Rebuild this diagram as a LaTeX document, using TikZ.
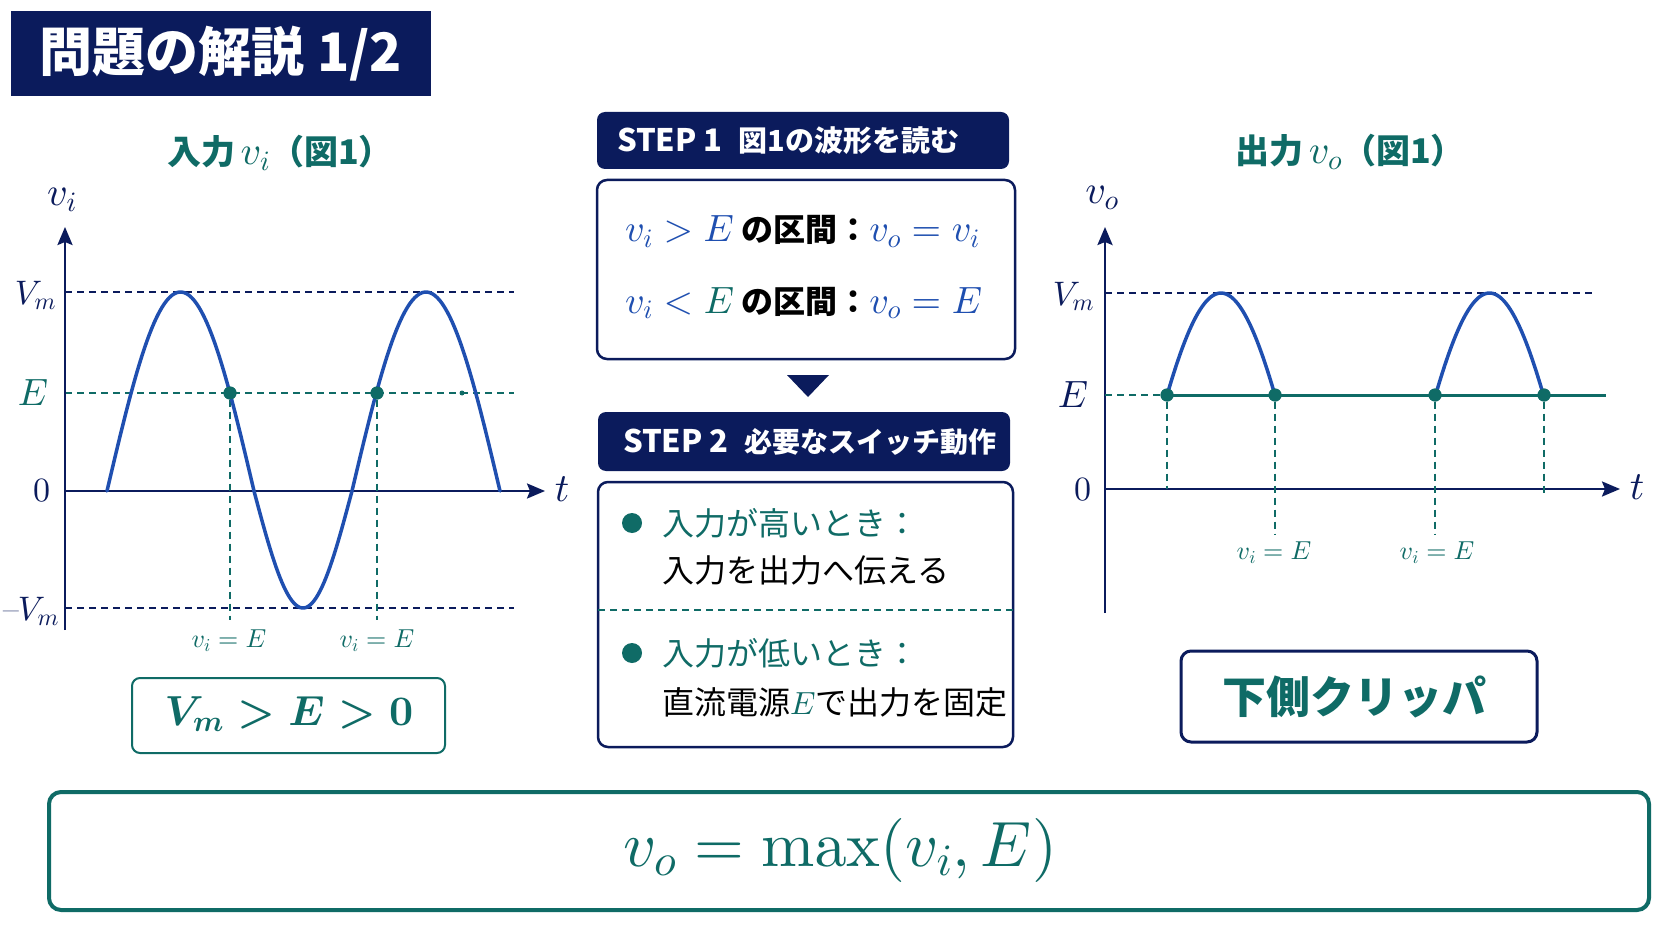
\RequirePackage{fix-cm}
\documentclass[tikz,border=0pt]{standalone}
\usepackage{amsmath}
\usepackage[no-math]{fontspec}
\DeclareFontShape{OML}{cmm}{m}{it}{<->cmmi10}{}
\DeclareFontShape{OML}{cmm}{b}{it}{<->cmmib10}{}
\DeclareFontShape{OT1}{cmr}{m}{n}{<->cmr10}{}
\DeclareFontShape{OT1}{cmr}{bx}{n}{<->cmbx10}{}
\DeclareFontShape{OMS}{cmsy}{m}{n}{<->cmsy10}{}
\DeclareFontShape{OMS}{cmsy}{b}{n}{<->cmbsy10}{}
\newfontfamily\jp{Noto Sans CJK JP}
\usetikzlibrary{arrows.meta}
\definecolor{mynavy}{HTML}{0B1B5C}
\definecolor{myteal}{HTML}{0F6B66}
\definecolor{myblue}{HTML}{1F4FB0}
\newcommand{\myfs}[1]{\fontsize{#1}{#1}\selectfont}
\tikzset{
  every node/.style={inner sep=0pt, outer sep=0pt},
  titlebox/.style={fill=mynavy, text=white, font=\jp\bfseries\myfs{53}},
  header/.style={fill=mynavy, rounded corners=8pt},
  headtext/.style={text=white, font=\jp\bfseries},
  panel/.style={draw=mynavy, line width=2.5pt, rounded corners=10pt, fill=white},
  tealbox/.style={draw=myteal, line width=2pt, rounded corners=8pt},
  bigbox/.style={draw=myteal, line width=4pt, rounded corners=12pt},
  clipbox/.style={draw=mynavy, line width=3pt, rounded corners=10pt},
  axisline/.style={draw=mynavy, line width=2.5pt, -{Stealth[length=18pt,width=15pt,inset=3pt]}},
  guide/.style={draw=mynavy, line width=1.3pt, dash pattern=on 7pt off 5pt},
  eguide/.style={draw=myteal, line width=1.3pt, dash pattern=on 7pt off 5pt},
  wave/.style={draw=myblue, line width=3.5pt, line join=round, line cap=round},
  eline/.style={draw=myteal, line width=3pt},
  dot/.style={circle, fill=myteal, minimum size=13pt},
  bullet/.style={circle, fill=myteal, minimum size=20pt},
  lbl/.style={text=mynavy, font=\myfs{34}},
  elbl/.style={text=myteal, font=\myfs{38}},
  xlbl/.style={text=myteal, font=\myfs{26}},
  gtitle/.style={text=myteal, font=\jp\bfseries\myfs{34}},
  item/.style={anchor=west, font=\jp\myfs{32}},
  stepline/.style={anchor=base west, font=\jp\bfseries\myfs{32}},
}
\begin{document}
\begin{tikzpicture}[x=1pt,y=-1pt]
\useasboundingbox (0,0) rectangle (1672,941);
\fill[white] (0,0) rectangle (1672,941);

% title
\node[titlebox, minimum width=420pt, minimum height=85pt] (title) at (221,53.5) {問題の解説 1/2};

% ===== left graph =====
\node[gtitle] (lt) at (280,153) {入力\,{\myfs{40}$v_i$}（図1）};
\coordinate (ly0) at (65,630);
\coordinate (ly1) at (65,227);
\coordinate (lo) at (65,491);
\coordinate (lx1) at (545,491);
\coordinate (lvm) at (65,292);
\coordinate (lvme) at (514,292);
\coordinate (le) at (65,393);
\coordinate (lee) at (514,393);
\coordinate (lnv) at (65,608);
\coordinate (lnve) at (514,608);
\draw[guide] (lvm) -- (lvme);
\draw[eguide] (le) -- (lee);
\draw[guide] (lnv) -- (lnve);
\draw[axisline] (ly0) -- (ly1);
\draw[axisline] (lo) -- (lx1);
\node[dot] (ld1) at (230,393) {};
\node[dot] (ld2) at (377,393) {};
\node[circle, fill=myteal, minimum size=5pt] (ld3) at (462,393) {};
\coordinate (ld1b) at (230,620);
\coordinate (ld2b) at (377,620);
\draw[eguide] (ld1) -- (ld1b);
\draw[eguide] (ld2) -- (ld2b);
\draw[wave] plot[domain=0:180,samples=60,variable=\s] ({107+\s/180*147},{491-199*sin(\s)})
  -- plot[domain=0:180,samples=50,variable=\s] ({254+\s/180*98},{491+117*sin(\s)})
  -- plot[domain=0:180,samples=60,variable=\s] ({352+\s/180*148},{491-199*sin(\s)});
\node[dot] at (ld1) {};
\node[dot] at (ld2) {};
\node[lbl, font=\myfs{40}] (lvi) at (62,200) {$v_i$};
\node[lbl, font=\myfs{40}] (lt2) at (562,489) {$t$};
\node[lbl, anchor=east] (lvmt) at (56,295) {$V_m$};
\node[elbl, anchor=east] (let) at (48,393) {$E$};
\node[lbl, anchor=east] (l0t) at (50,491) {$0$};
\node[lbl, anchor=east] (lnvt) at (59,611) {--\kern-1pt$V_m$};
\node[xlbl] (lxl1) at (229,641) {$v_i = E$};
\node[xlbl] (lxl2) at (377,641) {$v_i = E$};
\node[tealbox, minimum width=313pt, minimum height=75pt] (cond) at (288.5,715.5) {};
\node[text=myteal, font=\myfs{42}] (condt) at (289,714) {$\boldsymbol{V_m > E > 0}$};

% ===== middle column =====
\node[header, minimum width=412pt, minimum height=57pt] (s1h) at (803,140.5) {};
\node[headtext, anchor=west] (s1ht) at (617,140.5) {{\myfs{31}STEP 1}\hspace{16pt}{\myfs{29}図1の波形を読む}};
\node[panel, minimum width=418pt, minimum height=179pt] (s1p) at (806,269.5) {};
\node[stepline] (s1a) at (625,242)
  {{\myfs{38}\color{myblue}$v_i > E$}\ の区間：{\myfs{38}\color{myblue}$v_o = v_i$}};
\node[stepline] (s1b) at (625,313)
  {{\myfs{38}\color{myblue}$v_i < {\color{myteal}E}$}\ の区間：{\myfs{38}\color{myblue}$v_o = E$}};
\fill[mynavy] (787,375) -- (829,375) -- (808,397) -- cycle;
\node[header, minimum width=412pt, minimum height=59pt] (s2h) at (804,441.5) {};
\node[headtext, anchor=west] (s2ht) at (623,441.5) {{\myfs{31}STEP 2}\hspace{16pt}{\myfs{28}必要なスイッチ動作}};
\node[panel, minimum width=415pt, minimum height=265pt] (s2p) at (805.5,614.5) {};
\coordinate (dl) at (0,610);
\draw[eguide] (s2p.west |- dl) -- (s2p.east |- dl);
\node[bullet] (b1) at (632,523) {};
\node[bullet] (b2) at (632,653) {};
\node[item, text=myteal] (i1) at (662,523) {入力が高いとき：};
\node[item, text=black] (i1b) at (662,570) {入力を出力へ伝える};
\node[item, text=myteal] (i2) at (662,653) {入力が低いとき：};
\node[item, text=black] (i2b) at (662,702) {直流電源{\myfs{32}\color{myteal}$E$}で出力を固定};

% ===== right graph =====
\node[gtitle] (rt) at (1350,152) {出力\,{\myfs{40}$v_o$}（図1）};
\coordinate (ry0) at (1105,613);
\coordinate (ry1) at (1105,227);
\coordinate (ro) at (1105,489);
\coordinate (rx1) at (1620,489);
\coordinate (rvm) at (1105,293);
\coordinate (rvme) at (1594,293);
\coordinate (re) at (1105,395);
\coordinate (ree) at (1606,395);
\draw[guide] (rvm) -- (rvme);
\draw[axisline] (ry0) -- (ry1);
\draw[axisline] (ro) -- (rx1);
\node[dot] (rd1) at (1167,395) {};
\node[dot] (rd2) at (1275,395) {};
\node[dot] (rd3) at (1435,395) {};
\node[dot] (rd4) at (1544,395) {};
\draw[eguide] (re) -- (rd1);
\draw[eline] (rd1.center) -- (ree);
\coordinate (rd1b) at (1167,489);
\coordinate (rd2b) at (1275,535);
\coordinate (rd3b) at (1435,535);
\coordinate (rd4b) at (1544,495);
\draw[eguide] (rd1) -- (rd1b);
\draw[eguide] (rd2) -- (rd2b);
\draw[eguide] (rd3) -- (rd3b);
\draw[eguide] (rd4) -- (rd4b);
\draw[wave] plot[domain=29.4:150.6,samples=50,variable=\s] ({1221+(\s-90)/180*160},{493-200*sin(\s)});
\draw[wave] plot[domain=29.4:150.6,samples=50,variable=\s] ({1489.5+(\s-90)/180*160},{493-200*sin(\s)});
\node[dot] at (rd1) {};
\node[dot] at (rd2) {};
\node[dot] at (rd3) {};
\node[dot] at (rd4) {};
\node[lbl, font=\myfs{40}] (rvo) at (1102,198) {$v_o$};
\node[lbl, font=\myfs{40}] (rt2) at (1637,487) {$t$};
\node[lbl, anchor=east] (rvmt) at (1094,296) {$V_m$};
\node[lbl, anchor=east, font=\myfs{38}] (ret) at (1088,395) {$E$};
\node[lbl, anchor=east] (r0t) at (1091,490) {$0$};
\node[xlbl] (rxl1) at (1274,553) {$v_i = E$};
\node[xlbl] (rxl2) at (1437,553) {$v_i = E$};
\node[clipbox, minimum width=356pt, minimum height=91pt] (clip) at (1359,696.5) {};
\node[text=myteal, font=\jp\bfseries\myfs{44}] (clipt) at (1354,697) {下側クリッパ};

% ===== bottom formula =====
\node[bigbox, minimum width=1600pt, minimum height=118pt] (fbox) at (849,851) {};
\node[text=myteal, font=\myfs{64}] (ft) at (840,850) {$v_o = \max(v_i, E)$};
\end{tikzpicture}
\end{document}
